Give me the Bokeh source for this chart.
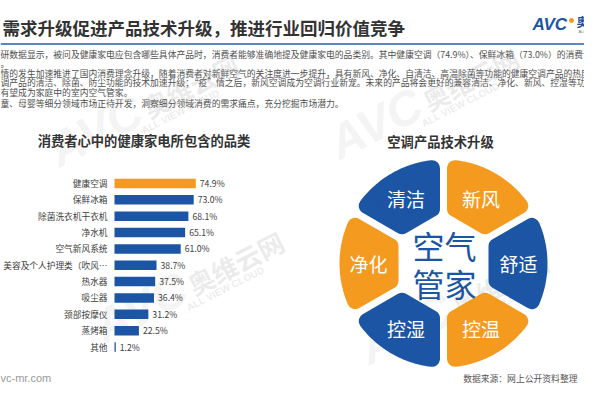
import math
from bokeh.plotting import figure
from bokeh.models import Range1d
from bokeh.core.properties import value
from bokeh.embed import file_html
from bokeh.resources import INLINE

# ---------------- data ----------------
page_title = "需求升级促进产品技术升级，推进行业回归价值竞争"
paragraph_lines = [
    "研数据显示，被问及健康家电应包含哪些具体产品时，消费者能够准确地提及健康家电的品类别。其中健康空调（74.9%）、保鲜冰箱（73.0%）的消费认知",
    "。",
    "情的发生加速推进了国内消费理念升级，随着消费者对新鲜空气的关注度进一步提升，具有新风、净化、自清洁、高温除菌等功能的健康空调产品的热度提",
    "调产品的清洁、除菌、防尘功能的技术加速升级；“疫”情之后，新风空调成为空调行业新宠。未来的产品将会更好的兼容清洁、净化、新风、控湿等功能",
    "有望成为家庭中的室内空气管家。",
    "童、母婴等细分领域市场正待开发，洞察细分领域消费的需求痛点，充分挖掘市场潜力。",
]
bar_title = "消费者心中的健康家电所包含的品类"
categories = ["健康空调", "保鲜冰箱", "除菌洗衣机干衣机", "净水机", "空气新风系统",
              "美容及个人护理类（吹风⋯", "热水器", "吸尘器", "颈部按摩仪", "蒸烤箱", "其他"]
shares = [74.9, 73.0, 68.1, 65.1, 61.0, 38.7, 37.5, 36.4, 31.2, 22.5, 1.2]
share_labels = [f"{v:.1f}%" for v in shares]

ring_title = "空调产品技术升级"
ring_labels = ["舒适", "新风", "清洁", "净化", "控湿", "控温"]
ring_angles = [0, 60, 120, 180, 240, 300]
center_lines = ["空气", "管家"]
source_note = "数据来源：网上公开资料整理"
site_note = "vc-mr.com"

# ---------------- style ----------------
BLUE = "#1b55a3"
ORANGE = "#f39a1f"
CJK = "Noto Sans CJK SC"
W, H = 584, 384

p = figure(width=W, height=H, x_range=Range1d(0, W), y_range=Range1d(H, 0),
           output_backend="svg", toolbar_location=None, min_border=0,
           x_axis_location=None, y_axis_location=None)
p.grid.visible = False
p.outline_line_color = None
p.background_fill_color = "white"
p.border_fill_color = "white"

# bar chart scales: 0% at x=114 px, 1.085 px per %, rows 16.35 px apart starting at y=183
K, X0 = 1.085, 114.0
R0, DR = 183.0, 16.35
# ring scales: centre at (443, 263), y up
CX, CY = 443.0, 263.0
p.extra_x_ranges = {"pct": Range1d((0 - X0) / K, (W - X0) / K),
                    "ring": Range1d(0 - CX, W - CX)}
p.extra_y_ranges = {"row": Range1d((H - R0) / DR, (0 - R0) / DR),
                    "ringy": Range1d(CY - H, CY - 0)}

# ---------------- header ----------------
p.text(x=[2], y=[27], text=[page_title], text_font=value(CJK), text_font_size="17.5px",
       text_font_style="bold", text_color="#333333", text_baseline="middle", text_align="left")
p.segment(x0=[0], y0=[43.5], x1=[W], y1=[43.5], line_color="#2a5ea8", line_width=1.5)

# logo
p.text(x=[532], y=[24], text=["AVC"], text_font=value("Liberation Sans"), text_font_size="17px",
       text_font_style="bold italic", text_color=BLUE, text_baseline="middle", text_align="left")
p.scatter(x=[571], y=[20], size=4, color=ORANGE)
p.text(x=[576], y=[21], text=["奥维"], text_font=value(CJK), text_font_size="12px",
       text_font_style="bold", text_color=BLUE, text_baseline="middle", text_align="left")
p.text(x=[578], y=[31], text=["ALL VIEW"], text_font=value("Liberation Sans"), text_font_size="4px",
       text_color="#777777", text_baseline="middle", text_align="left")

para_y = [54, 63, 73, 82, 92, 103]
p.text(x=[0] * len(paragraph_lines), y=para_y, text=paragraph_lines, text_font=value(CJK),
       text_font_size="8.8px", text_color="#505050", text_baseline="middle", text_align="left")

# ---------------- watermarks ----------------
wm_x = [190, 470, 235, 500]
wm_y = [85, 78, 262, 283]
ang = math.radians(27)
p.text(x=wm_x, y=wm_y, text=["奥维云网"] * 4, angle=ang, text_font=value(CJK), text_font_size="26px",
       text_font_style="bold", text_color="#a8a8a8", text_alpha=0.22,
       text_align="center", text_baseline="middle")
p.text(x=[x - 10 for x in wm_x], y=[y + 26 for y in wm_y], text=["ALL VIEW CLOUD"] * 4, angle=ang,
       text_font=value("Liberation Sans"), text_font_size="10px", text_font_style="bold",
       text_color="#a8a8a8", text_alpha=0.22, text_align="center", text_baseline="middle")
p.text(x=[x - 95 for x in wm_x], y=[y + 45 for y in wm_y], text=["AVC"] * 4, angle=ang,
       text_font=value("Liberation Sans"), text_font_size="48px", text_font_style="bold italic",
       text_color="#a8a8a8", text_alpha=0.15, text_align="center", text_baseline="middle")

# ---------------- bar chart ----------------
p.text(x=[143.5], y=[140], text=[bar_title], text_font=value(CJK), text_font_size="13.3px",
       text_font_style="bold", text_color="#333333", text_align="center", text_baseline="middle")
rows = list(range(len(categories)))
bar_colors = [ORANGE] + [BLUE] * (len(categories) - 1)
p.hbar(y=rows, left=0, right=shares, height=0.58, fill_color=bar_colors, line_color=None,
       x_range_name="pct", y_range_name="row")
p.text(x=[0] * len(rows), y=rows, text=categories, x_offset=-7, text_font=value(CJK),
       text_font_size="8.7px", text_color="#404040", text_align="right", text_baseline="middle",
       x_range_name="pct", y_range_name="row")
p.text(x=shares, y=rows, text=share_labels, x_offset=4, text_font=value(CJK),
       text_font_size="8.7px", text_color="#404040", text_align="left", text_baseline="middle",
       x_range_name="pct", y_range_name="row")

# ---------------- ring diagram ----------------
p.text(x=[440], y=[140.5], text=[ring_title], text_font=value(CJK), text_font_size="13.3px",
       text_font_style="bold", text_color="#333333", text_align="center", text_baseline="middle")

R_OUT, APOTHEM, GAP, ROUND = 104.0, 45.0, 7.0, 8.0
a = APOTHEM + ROUND
Rs = R_OUT - ROUND
off = GAP / 2 + ROUND
s30, c30 = 0.5, math.sqrt(3) / 2


def segment(theta_deg, n=40):
    vi = (a * s30 - off) / c30
    t = math.sqrt(Rs ** 2 - off ** 2)
    phi = math.atan2(t * s30 - off * c30, t * c30 + off * s30)
    pts = [(a, -vi)]
    for k in range(n + 1):
        g = -phi + 2 * phi * k / n
        pts.append((Rs * math.cos(g), Rs * math.sin(g)))
    pts.append((a, vi))
    th = math.radians(theta_deg)
    xs = [u * math.cos(th) - v * math.sin(th) for u, v in pts]
    ys = [u * math.sin(th) + v * math.cos(th) for u, v in pts]
    return xs, ys


seg_xs, seg_ys = [], []
for th in ring_angles:
    xs, ys = segment(th)
    seg_xs.append(xs)
    seg_ys.append(ys)
seg_colors = [BLUE if i % 2 == 0 else ORANGE for i in range(len(ring_angles))]
p.patches(xs=seg_xs, ys=seg_ys, fill_color=seg_colors, line_color=seg_colors,
          line_width=2 * ROUND, line_join="round", x_range_name="ring", y_range_name="ringy")

LR = 75.0
p.text(x=[LR * math.cos(math.radians(t)) for t in ring_angles],
       y=[LR * math.sin(math.radians(t)) for t in ring_angles],
       text=ring_labels, text_font=value(CJK), text_font_size="19px", text_color="white",
       text_align="center", text_baseline="middle", x_range_name="ring", y_range_name="ringy")
p.text(x=[1, 1], y=[19, -19], text=center_lines, text_font=value(CJK), text_font_size="32px",
       text_color=BLUE, text_align="center", text_baseline="middle",
       x_range_name="ring", y_range_name="ringy")

# ---------------- footer ----------------
p.text(x=[577], y=[378], text=[source_note], text_font=value(CJK), text_font_size="8.8px",
       text_color="#555555", text_align="right", text_baseline="middle")
p.text(x=[0], y=[377], text=[site_note], text_font=value("Liberation Sans"), text_font_size="11px",
       text_color="#9a9a9a", text_align="left", text_baseline="middle")

open("out.html", "w").write(file_html(p, INLINE))
